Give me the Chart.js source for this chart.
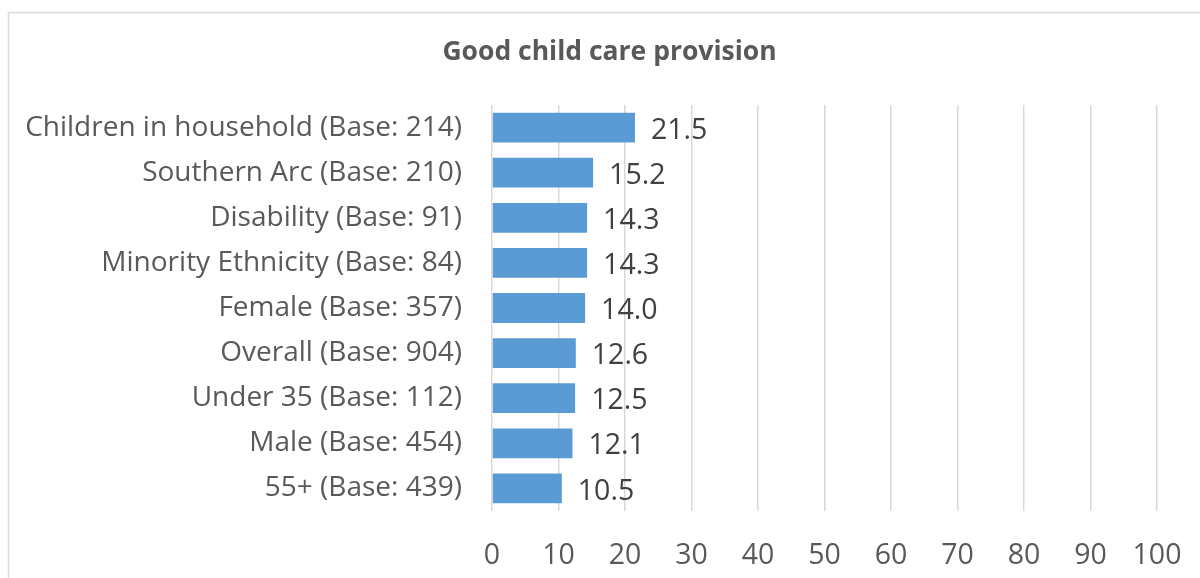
<!DOCTYPE html>
<html>
<head>
<meta charset="utf-8">
<script src="https://cdn.jsdelivr.net/npm/chart.js@4"></script>
<style>
  html, body { margin: 0; padding: 0; background: #fff; }
  #wrap { width: 1200px; height: 578px; }
</style>
</head>
<body>
<div id="wrap"><canvas id="grafico" width="1200" height="578"></canvas></div>
<script>
// Dados do gráfico
const categorias = [
  "Children in household (Base: 214)",
  "Southern Arc (Base: 210)",
  "Disability (Base: 91)",
  "Minority Ethnicity (Base: 84)",
  "Female (Base: 357)",
  "Overall (Base: 904)",
  "Under 35 (Base: 112)",
  "Male (Base: 454)",
  "55+ (Base: 439)"
];
const valores = [21.5, 15.2, 14.3, 14.3, 14.0, 12.6, 12.5, 12.1, 10.5];
const ticksX = [0, 10, 20, 30, 40, 50, 60, 70, 80, 90, 100];

const fonte = "'Open Sans', sans-serif";

// Moldura cinza em volta do gráfico
const moldura = {
  id: "moldura",
  beforeDraw(chart) {
    const ctx = chart.ctx;
    ctx.save();
    ctx.strokeStyle = "#d9d9d9";
    ctx.lineWidth = 1.5;
    ctx.strokeRect(8.5, 12.5, 1300, 700);
    ctx.restore();
  },
  // centralizar o título como no original
  afterLayout(chart) {
    if (chart.titleBlock) {
      chart.titleBlock.left = 62;
      chart.titleBlock.right = 1157;
    }
  }
};

// Rótulos de valor no fim de cada barra
const rotulos = {
  id: "rotulos",
  afterDatasetsDraw(chart) {
    const ctx = chart.ctx;
    const meta = chart.getDatasetMeta(0);
    ctx.save();
    ctx.font = "28.5px " + fonte;
    ctx.fillStyle = "#404040";
    ctx.textAlign = "left";
    ctx.textBaseline = "middle";
    meta.data.forEach(function (bar, i) {
      const p = bar.getProps(["x", "y"], true);
      ctx.fillText(valores[i].toFixed(1), p.x + 16, p.y + 3);
    });
    ctx.restore();
  }
};

new Chart(document.getElementById("grafico"), {
  type: "bar",
  data: {
    labels: categorias,
    datasets: [{
      data: valores,
      backgroundColor: "#5b9bd5",
      borderWidth: 0,
      barPercentage: 0.66,
      categoryPercentage: 1
    }]
  },
  options: {
    indexAxis: "y",
    responsive: false,
    animation: false,
    layout: { padding: { left: 10, right: 43, top: 0, bottom: 0 } },
    plugins: {
      legend: { display: false },
      tooltip: { enabled: false },
      title: {
        display: true,
        text: "Good child care provision",
        color: "#595959",
        font: { family: fonte, size: 26.5, weight: "bold" },
        padding: { top: 37, bottom: 36.2 }
      }
    },
    scales: {
      x: {
        min: 0,
        max: 100,
        afterBuildTicks: function (scale) {
          scale.ticks = ticksX.map(v => ({ value: v }));
        },
        afterFit: function (scale) {
          scale.height = 67;
          scale.paddingLeft = 0;
          scale.paddingRight = 0;
        },
        grid: { color: "#d9d9d9", lineWidth: 1.5, drawTicks: false },
        border: { display: false },
        ticks: {
          color: "#595959",
          font: { family: fonte, size: 28.5 },
          padding: 28,
          maxRotation: 0
        }
      },
      y: {
        afterFit: function (scale) { scale.width = 482; },
        grid: { display: false, drawTicks: false },
        border: { display: false },
        ticks: {
          color: "#595959",
          font: { family: fonte, size: 28 },
          padding: 30
        }
      }
    }
  },
  plugins: [moldura, rotulos]
});
</script>
</body>
</html>
